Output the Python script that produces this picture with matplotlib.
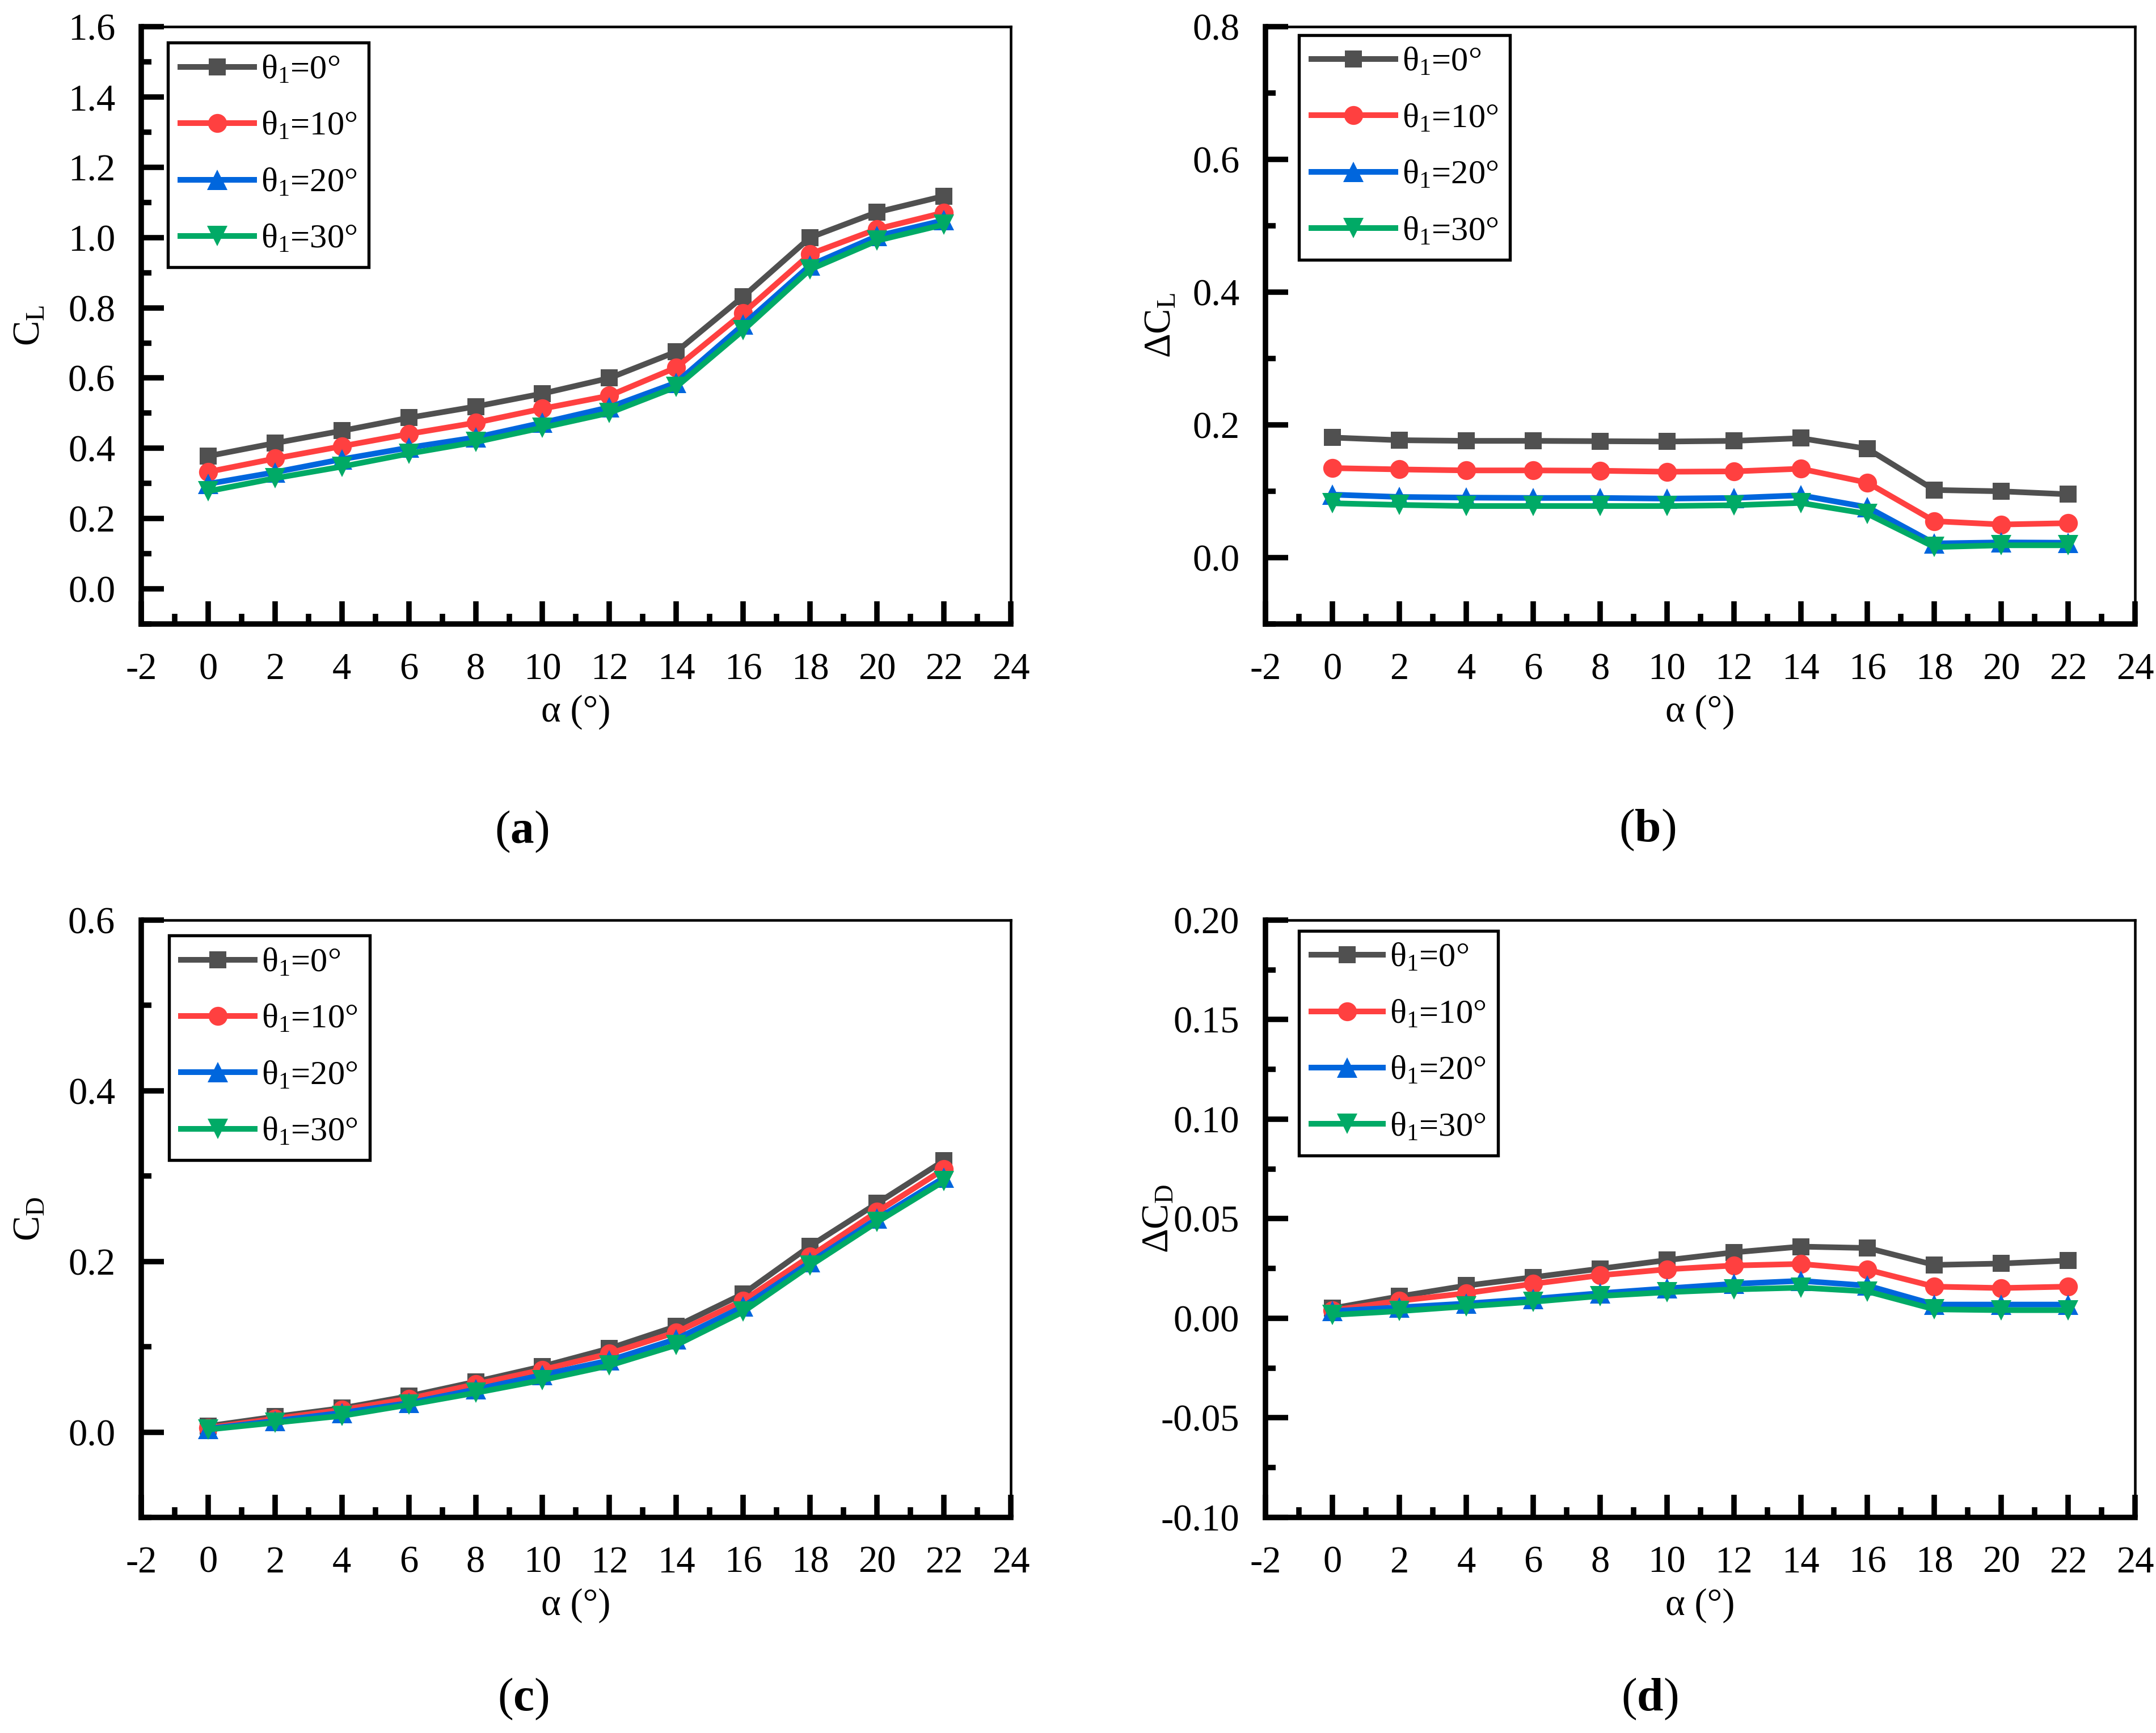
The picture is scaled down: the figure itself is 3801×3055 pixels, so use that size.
import matplotlib
matplotlib.use('Agg')
import matplotlib.pyplot as plt
from matplotlib.ticker import MultipleLocator, FormatStrFormatter

##### data
alpha = [0, 2, 4, 6, 8, 10, 12, 14, 16, 18, 20, 22]
labels = ['θ$_1$=0°', 'θ$_1$=10°', 'θ$_1$=20°', 'θ$_1$=30°']

cl_0 = [0.378, 0.415, 0.450, 0.487, 0.519, 0.556, 0.600, 0.675, 0.832, 1.000, 1.072, 1.118]
cl_10 = [0.333, 0.371, 0.406, 0.441, 0.473, 0.513, 0.550, 0.630, 0.785, 0.953, 1.024, 1.071]
cl_20 = [0.299, 0.332, 0.369, 0.402, 0.431, 0.473, 0.517, 0.587, 0.752, 0.921, 1.004, 1.049]
cl_30 = [0.278, 0.315, 0.348, 0.385, 0.418, 0.459, 0.501, 0.575, 0.736, 0.909, 0.991, 1.037]

dcl_0 = [0.181, 0.177, 0.176, 0.176, 0.1755, 0.175, 0.176, 0.180, 0.164, 0.102, 0.100, 0.0955]
dcl_10 = [0.135, 0.133, 0.1315, 0.1315, 0.131, 0.1295, 0.130, 0.134, 0.113, 0.055, 0.050, 0.052]
dcl_20 = [0.095, 0.0915, 0.0905, 0.090, 0.090, 0.089, 0.090, 0.094, 0.076, 0.0215, 0.023, 0.0225]
dcl_30 = [0.082, 0.0795, 0.0778, 0.0778, 0.0778, 0.0778, 0.079, 0.0825, 0.066, 0.016, 0.0187, 0.0187]

cd_0 = [0.007, 0.018, 0.028, 0.042, 0.059, 0.077, 0.098, 0.124, 0.162, 0.218, 0.268, 0.318]
cd_10 = [0.005, 0.0156, 0.026, 0.039, 0.056, 0.073, 0.092, 0.117, 0.154, 0.206, 0.258, 0.308]
cd_20 = [0.004, 0.013, 0.0226, 0.034, 0.050, 0.067, 0.084, 0.109, 0.147, 0.199, 0.250, 0.298]
cd_30 = [0.003, 0.011, 0.019, 0.032, 0.046, 0.061, 0.078, 0.102, 0.141, 0.195, 0.246, 0.294]

dcd_0 = [0.005, 0.011, 0.0164, 0.0206, 0.0249, 0.0292, 0.0331, 0.036, 0.0353, 0.0268, 0.0275, 0.029]
dcd_10 = [0.004, 0.0088, 0.0126, 0.0173, 0.0216, 0.0246, 0.0265, 0.0273, 0.0244, 0.0159, 0.0152, 0.0159]
dcd_20 = [0.0036, 0.0055, 0.0074, 0.0098, 0.0126, 0.015, 0.0173, 0.0188, 0.0164, 0.0069, 0.0069, 0.0069]
dcd_30 = [0.0017, 0.0036, 0.006, 0.0083, 0.0112, 0.0131, 0.0145, 0.0154, 0.0135, 0.0045, 0.0041, 0.0041]

colors = ['#505050', '#FF4040', '#0066DD', '#00AA66']
markers = ['s', 'o', '^', 'v']
msizes = [7, 8, 8.5, 8.5]

##### style (Origin-like, Times font)
plt.rcParams['font.family'] = ['Liberation Serif', 'DejaVu Serif']
plt.rcParams['mathtext.fontset'] = 'custom'
plt.rcParams['mathtext.rm'] = 'Liberation Serif'
plt.rcParams['mathtext.it'] = 'Liberation Serif:italic'
plt.rcParams['mathtext.bf'] = 'Liberation Serif:bold'
plt.rcParams['mathtext.default'] = 'regular'
plt.rcParams['axes.unicode_minus'] = False

fig = plt.figure(figsize=(3801/300, 3055/300), dpi=300)

W, H = 0.4033, 0.3447
panels = [
    dict(pos=[0.0655, 0.6399, W, H], ys=[cl_0, cl_10, cl_20, cl_30], ylim=(-0.1, 1.6), maj=0.2, mnr=0.1,
         fmt='%.1f', ylab='C$_{L}$', lx=-0.108, leg=(0.031, 0.973), hl=2.15, tag='a', tpos=(0.242, 0.520)),
    dict(pos=[0.5870, 0.6399, W, H], ys=[dcl_0, dcl_10, dcl_20, dcl_30], ylim=(-0.1, 0.8), maj=0.2, mnr=0.1,
         fmt='%.1f', ylab='ΔC$_{L}$', lx=-0.100, leg=(0.0386, 0.986), hl=2.45, tag='b', tpos=(0.764, 0.521)),
    dict(pos=[0.0655, 0.1244, W, H], ys=[cd_0, cd_10, cd_20, cd_30], ylim=(-0.1, 0.6), maj=0.2, mnr=0.1,
         fmt='%.1f', ylab='C$_{D}$', lx=-0.108, leg=(0.032, 0.974), hl=2.15, tag='c', tpos=(0.2427, 0.0196)),
    dict(pos=[0.5870, 0.1244, W, H], ys=[dcd_0, dcd_10, dcd_20, dcd_30], ylim=(-0.1, 0.2), maj=0.05, mnr=0.025,
         fmt='%.2f', ylab='ΔC$_{D}$', lx=-0.103, leg=(0.0386, 0.982), hl=2.1, tag='d', tpos=(0.765, 0.0196)),
]

for p in panels:
    ax = fig.add_axes(p['pos'])
    for i in range(4):
        ax.plot(alpha, p['ys'][i], color=colors[i], marker=markers[i], markersize=msizes[i],
                markeredgewidth=0, linewidth=2.4, label=labels[i])

    ax.set_xlim(-2, 24)
    ax.set_ylim(*p['ylim'])
    ax.xaxis.set_major_locator(MultipleLocator(2))
    ax.xaxis.set_minor_locator(MultipleLocator(1))
    ax.yaxis.set_major_locator(MultipleLocator(p['maj']))
    ax.yaxis.set_minor_locator(MultipleLocator(p['mnr']))
    ax.yaxis.set_major_formatter(FormatStrFormatter(p['fmt']))
    ax.xaxis.set_major_formatter(FormatStrFormatter('%d'))

    ax.tick_params(which='both', direction='in', top=False, right=False, width=2.3, labelsize=16)
    ax.tick_params(which='major', length=9.5)
    ax.tick_params(which='minor', length=4.3)
    ax.tick_params(axis='x', which='major', pad=12)
    ax.tick_params(axis='y', which='major', pad=11)

    ax.spines['left'].set_linewidth(2.3)
    ax.spines['bottom'].set_linewidth(2.3)
    ax.spines['top'].set_linewidth(1.1)
    ax.spines['right'].set_linewidth(1.1)

    ax.set_xlabel('α (°)', fontsize=16)
    ax.xaxis.set_label_coords(0.5, -0.118)
    ax.set_ylabel(p['ylab'], fontsize=16)
    ax.yaxis.set_label_coords(p['lx'], 0.5)

    leg = ax.legend(loc='upper left', bbox_to_anchor=p['leg'], borderaxespad=0, fontsize=14.5,
                    fancybox=False, framealpha=1, edgecolor='black', numpoints=1,
                    handlelength=p['hl'], handletextpad=0.2, labelspacing=0.73, borderpad=0.35)
    leg.get_frame().set_linewidth(1.3)

    fig.text(p['tpos'][0], p['tpos'][1], '($\\mathbf{' + p['tag'] + '}$)', fontsize=20,
             ha='center', va='center')

plt.savefig('out.png', dpi=300)
